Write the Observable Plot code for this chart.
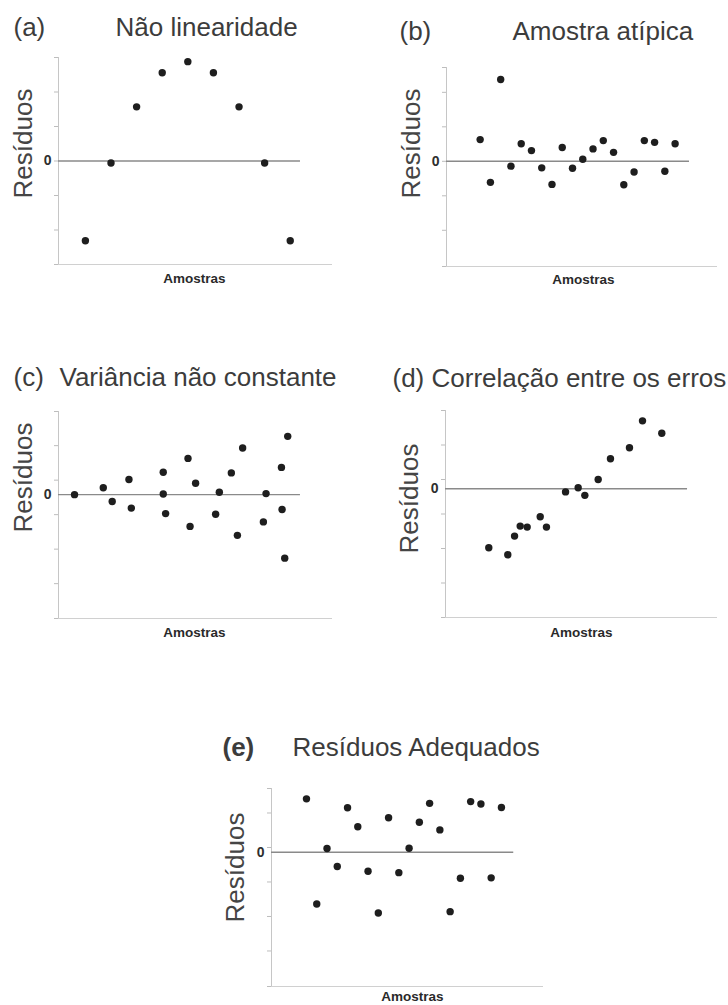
<!DOCTYPE html>
<html>
<head>
<meta charset="utf-8">
<script src="https://cdn.jsdelivr.net/npm/d3@7"></script>
<script src="https://cdn.jsdelivr.net/npm/@observablehq/plot@0.6"></script>
<style>
  html, body { margin: 0; padding: 0; background: #fff; }
  #chart { position: relative; width: 728px; height: 1005px; overflow: hidden; background: #fff; }
  #chart svg { position: absolute; }
</style>
</head>
<body>
<div id="chart"></div>
<script>
// Residuals plotted against sample order: five characteristic patterns.
const panelLetters = ["(a)", "(b)", "(c)", "(d)", "(e)"];
const panelTitles = [
  "Não linearidade",
  "Amostra atípica",
  "Variância não constante",
  "Correlação entre os erros",
  "Resíduos Adequados"
];
const yAxisLabel = "Resíduos";
const xAxisLabel = "Amostras";
const zeroLabel = "0";

// (a) curved pattern
const samplesA = [1, 2, 3, 4, 5, 6, 7, 8, 9];
const residualsA = [-2.31, -0.06, 1.57, 2.56, 2.88, 2.56, 1.57, -0.06, -2.31];
const xExtentA = [-0.05, 10.65];
const zeroEndA = 9.4;
const yExtentA = [-3, 3];
const yTicksA = [-3, -2, -1, 0, 1, 2, 3];

// (b) one outlying sample
const samplesB = [1, 2, 3, 4, 5, 6, 7, 8, 9, 10, 11, 12, 13, 14, 15, 16, 17, 18, 19, 20];
const residualsB = [0.63, -0.61, 2.37, -0.14, 0.51, 0.31, -0.19, -0.67, 0.40, -0.20,
                    0.06, 0.36, 0.60, 0.26, -0.68, -0.31, 0.60, 0.55, -0.29, 0.51];
const xExtentB = [-2.28, 24.13];
const zeroEndB = 21.4;
const yExtentB = [-3.05, 2.72];
const yTicksB = [-3.05, -2, -1, 0, 1, 2, 2.72];

// (c) spread growing along the samples
const samplesC = [1.56, 4.36, 5.23, 6.86, 7.09, 10.2, 10.2, 10.43, 12.61, 13.35, 12.81,
                  15.3, 15.66, 16.83, 17.93, 17.42, 19.95, 20.21, 21.71, 21.77, 22.32, 22.03];
const residualsC = [0, 0.2, -0.2, 0.44, -0.39, 0.65, 0.02, -0.55, 1.05, 0.33, -0.92,
                    -0.57, 0.07, 0.63, 1.35, -1.18, -0.79, 0.03, 0.79, -0.43, 1.69, -1.84];
const xExtentC = [0, 26.68];
const zeroEndC = 23.56;
const yExtentC = [-3.59, 2.41];
const yTicksC = [-3.59, -2.58, -1.58, -0.58, 0.42, 1.42, 2.41];

// (d) serially correlated errors
const samplesD = [4.22, 6.07, 6.73, 7.28, 7.96, 9.23, 9.84, 11.7, 12.93, 13.58, 14.88, 16.08, 17.93, 19.2, 21.08];
const residualsD = [-1.71, -1.91, -1.37, -1.08, -1.11, -0.81, -1.11, -0.09, 0.03, -0.19, 0.27, 0.87, 1.19, 1.97, 1.61];
const xExtentD = [0, 26.51];
const zeroEndD = 23.59;
const yExtentD = [-3.73, 2.27];
const yTicksD = [-3.73, -2.73, -1.73, -0.73, 0.27, 1.27, 2.27];

// (e) well-behaved residuals
const samplesE = [1, 2, 3, 4, 5, 6, 7, 8, 9, 10, 11, 12, 13, 14, 15, 16, 17, 18, 19, 20];
const residualsE = [1.55, -1.5, 0.11, -0.41, 1.29, 0.74, -0.55, -1.76, 1.0, -0.59,
                    0.12, 0.87, 1.42, 0.65, -1.72, -0.75, 1.47, 1.4, -0.74, 1.3];
const xExtentE = [-2.41, 24.1];
const zeroEndE = 21.2;
const yExtentE = [-3.89, 1.85];
const yTicksE = [-3.89, -2.86, -1.86, -0.86, 0.14, 1.14, 1.85];

// Page layout of each panel: plot frame and anchor points for its texts (page px)
const layout = [
  {frame: {left: 58, top: 57, right: 332, bottom: 264}, letter: [13, 35], title: [115, 35], ylab: [23, 143], xlab: [194, 18], boldLetter: false},
  {frame: {left: 446, top: 67, right: 717, bottom: 266}, letter: [399, 39], title: [512, 39], ylab: [411, 143], xlab: [583, 17], boldLetter: false},
  {frame: {left: 58, top: 411, right: 332, bottom: 618}, letter: [13, 385], title: [59, 385], ylab: [23, 477], xlab: [194, 18], boldLetter: false},
  {frame: {left: 445, top: 410, right: 717, bottom: 617}, letter: [392, 386], title: [431, 386], ylab: [409, 498], xlab: [581, 19], boldLetter: false},
  {frame: {left: 271, top: 788, right: 543, bottom: 986}, letter: [222, 755], title: [292, 755], ylab: [235, 867], xlab: [412, 14], boldLetter: true}
];

const panels = [
  {x: samplesA, y: residualsA, xExtent: xExtentA, zeroEnd: zeroEndA, yExtent: yExtentA, yTicks: yTicksA},
  {x: samplesB, y: residualsB, xExtent: xExtentB, zeroEnd: zeroEndB, yExtent: yExtentB, yTicks: yTicksB},
  {x: samplesC, y: residualsC, xExtent: xExtentC, zeroEnd: zeroEndC, yExtent: yExtentC, yTicks: yTicksC},
  {x: samplesD, y: residualsD, xExtent: xExtentD, zeroEnd: zeroEndD, yExtent: yExtentD, yTicks: yTicksD},
  {x: samplesE, y: residualsE, xExtent: xExtentE, zeroEnd: zeroEndE, yExtent: yExtentE, yTicks: yTicksE}
];

const FONT = "'Liberation Sans', Arial, Helvetica, sans-serif";
const chart = document.getElementById("chart");

panels.forEach((p, k) => {
  const L = layout[k];
  const f = L.frame;
  const ml = 60, mr = 15, mt = 60, mb = 24;
  const fw = f.right - f.left, fh = f.bottom - f.top;
  // offsets from the frame's top-left corner to a page point
  const at = ([px, py]) => ({frameAnchor: "top-left", dx: px - f.left, dy: py - f.top});
  const points = p.x.map((x, i) => ({sample: x, residual: p.y[i]}));

  const svg = Plot.plot({
    width: fw + ml + mr,
    height: fh + mt + mb,
    marginLeft: ml, marginRight: mr, marginTop: mt, marginBottom: mb,
    style: {color: "#bdbdbd", background: "transparent", overflow: "visible", fontFamily: FONT},
    x: {domain: p.xExtent, axis: null},
    y: {domain: p.yExtent, ticks: p.yTicks, tickSize: 4, tickFormat: () => "", label: null},
    marks: [
      // axis lines
      Plot.ruleX([p.xExtent[0]], {y1: p.yExtent[0], y2: p.yExtent[1], stroke: "#c6c6c6", strokeWidth: 1}),
      Plot.ruleY([p.yExtent[0]], {x1: p.xExtent[0], x2: p.xExtent[1], stroke: "#d0d0d0", strokeWidth: 1}),
      // zero reference line
      Plot.ruleY([0], {x1: p.xExtent[0], x2: p.zeroEnd, stroke: "#8a8a8a", strokeWidth: 1.4}),
      // residuals
      Plot.dot(points, {x: "sample", y: "residual", r: 3.7, fill: "#1e1e1e", stroke: "none"}),
      // "0" tick label
      Plot.text([0], {y: d => d, text: () => zeroLabel, frameAnchor: "left", dx: -7, textAnchor: "end",
        fontSize: 14, fontWeight: "bold", fill: "#2e2e2e", fontFamily: FONT}),
      // x-axis label
      Plot.text([xAxisLabel], {text: d => d, frameAnchor: "bottom", dx: L.xlab[0] - (f.left + f.right) / 2, dy: L.xlab[1],
        textAnchor: "middle", lineAnchor: "bottom", fontSize: 13.5, fontWeight: "bold", fill: "#2a2a2a", fontFamily: FONT}),
      // y-axis label
      Plot.text([yAxisLabel], {text: d => d, ...at(L.ylab), rotate: -90, textAnchor: "middle", lineAnchor: "middle",
        fontSize: 26, fill: "#454545", fontFamily: FONT}),
      // panel letter and title
      Plot.text([panelLetters[k]], {text: d => d, ...at(L.letter), textAnchor: "start", lineAnchor: "bottom",
        fontSize: 26, fontWeight: L.boldLetter ? "bold" : "normal", fill: "#3c3c3c", fontFamily: FONT}),
      Plot.text([panelTitles[k]], {text: d => d, ...at(L.title), textAnchor: "start", lineAnchor: "bottom",
        fontSize: 26, fill: "#3c3c3c", fontFamily: FONT})
    ]
  });
  svg.style.left = (f.left - ml) + "px";
  svg.style.top = (f.top - mt) + "px";
  chart.appendChild(svg);
});
</script>
</body>
</html>
